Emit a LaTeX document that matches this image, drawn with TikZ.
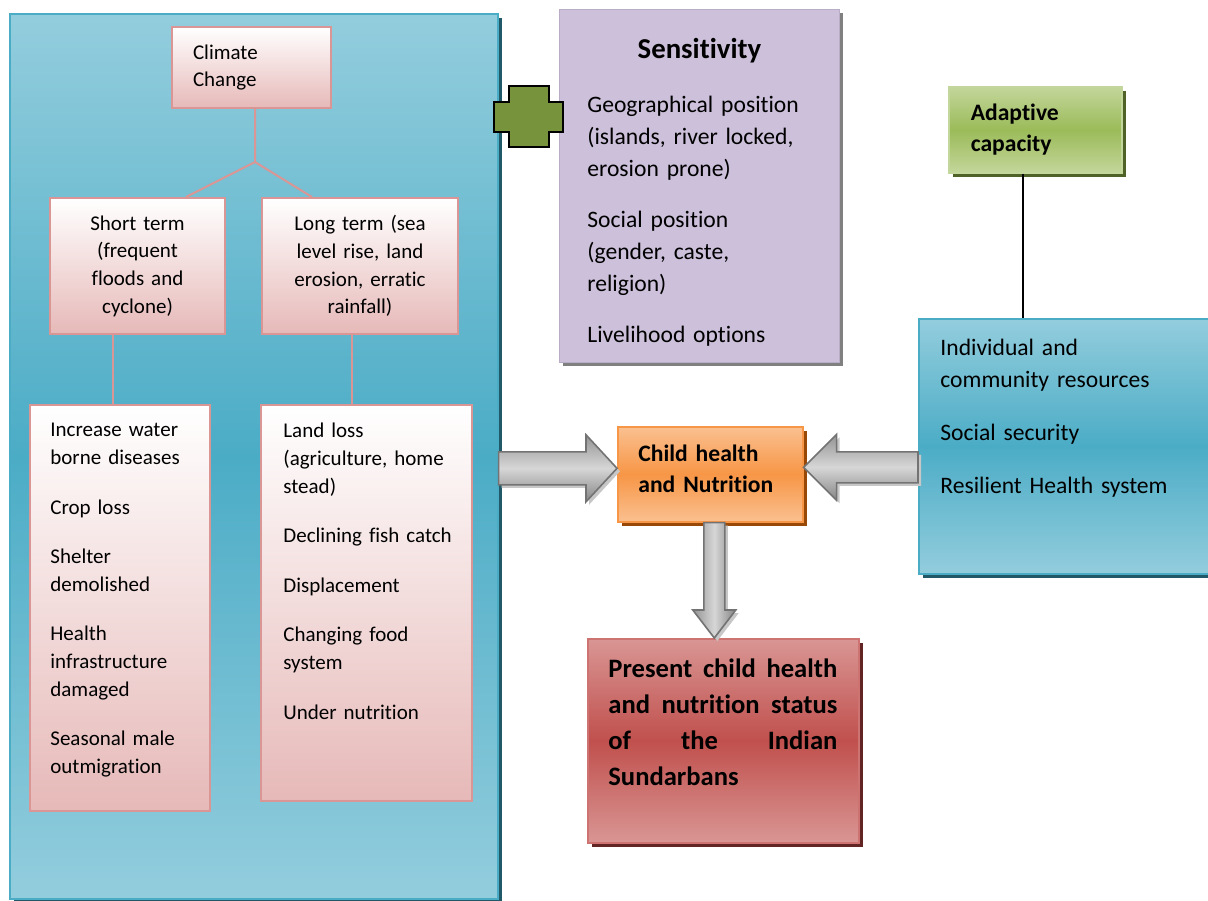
\documentclass[tikz,border=0pt]{standalone}
\usepackage{fontspec}
\setmainfont{Carlito}[Ligatures=NoCommon]
\usepackage{xcolor}
\usepackage{tikz}
\usetikzlibrary{calc,positioning}

\definecolor{tealmid}{HTML}{4BACC6}
\definecolor{teallight}{HTML}{93CDDD}
\definecolor{tealdark}{HTML}{215968}
\definecolor{rosebot}{HTML}{E6B9B8}
\definecolor{roseline}{HTML}{D99694}
\definecolor{lavender}{HTML}{CCC0DA}
\definecolor{olivefill}{HTML}{77933C}
\definecolor{greenmid}{HTML}{9BBB59}
\definecolor{greenlight}{HTML}{C3D69B}
\definecolor{greendark}{HTML}{4F6228}
\definecolor{orangemid}{HTML}{F79646}
\definecolor{orangelight}{HTML}{FAC090}
\definecolor{orangedark}{HTML}{984807}
\definecolor{redmid}{HTML}{C0504D}
\definecolor{redlight}{HTML}{D99694}
\definecolor{reddark}{HTML}{632523}

\begin{document}
\begin{tikzpicture}[x=0.5pt,y=-0.5pt,
  every node/.style={inner sep=0pt,anchor=north west},
  dropshade/.style={preaction={fill=#1,transform canvas={shift={(2pt,-2pt)}}}},
  tealbox/.style={draw=tealmid,line width=0.8pt,top color=teallight,bottom color=teallight,middle color=tealmid,dropshade=tealdark},
  rosebox/.style={draw=roseline,line width=1pt,top color=white,bottom color=rosebot},
  txt/.style={font=\fontsize{10.5}{13.8}\selectfont,align=left},
  bigtxt/.style={font=\fontsize{11.8}{16}\selectfont,align=left},
  boldtxt/.style={font=\fontsize{11.8}{15.5}\selectfont\bfseries,align=left},
  treeline/.style={draw=roseline,line width=1pt},
  fatarrow/.style={draw=black!55,line width=0.8pt,line join=miter,preaction={fill=black!22,transform canvas={shift={(1.5pt,-1.5pt)}}}},
  hshade/.style={top color=black!42,bottom color=black!48,middle color=black!16},
  vshade/.style={left color=black!42,right color=black!48,middle color=black!16}]
\path[use as bounding box] (0,0) rectangle (1208,900);
\clip (0,0) rectangle (1208,900);

% exposure panel
\node[tealbox,minimum width=244pt,minimum height=442.5pt] (panel) at (9,13) {};

\node[rosebox,txt,minimum width=79.5pt,minimum height=40.5pt,text width=58.5pt,inner xsep=10.5pt]
  (climate) at (171,26) {Climate\\ Change};
\node[rosebox,txt,align=center,minimum width=87.5pt,minimum height=68pt,text width=75pt]
  (short) at (49,197) {Short term\\ (frequent\\ floods and\\ cyclone)};
\node[rosebox,txt,align=center,minimum width=98pt,minimum height=68pt,text width=88pt]
  (long) at (261,197) {Long term (sea\\ level rise, land\\ erosion, erratic\\ rainfall)};

\node[rosebox,minimum width=90pt,minimum height=203pt] (shortlist) at (29,404) {};
\node[rosebox,minimum width=105.5pt,minimum height=198pt] (longlist) at (260,404) {};
\node[txt,text width=80pt,below right=9.5pt and 10.5pt of shortlist.north west] (shortitems)
  {Increase water\\ borne diseases\\[11pt] Crop loss\\[11pt] Shelter\\ demolished\\[11pt]
   Health\\ infrastructure\\ damaged\\[11pt] Seasonal male\\ outmigration};
\node[txt,text width=95pt,below right=9.5pt and 11.5pt of longlist.north west] (longitems)
  {Land loss\\ (agriculture, home\\ stead)\\[11pt] Declining fish catch\\[11pt]
   Displacement\\[11pt] Changing food\\ system\\[11pt] Under nutrition};

% tree lines
\coordinate (fork) at ([xshift=1.75pt,yshift=-26.5pt]climate.south);
\draw[treeline] ([xshift=1.75pt]climate.south) -- (fork) -- ([xshift=-20pt]short.north east);
\draw[treeline] (fork) -- ([xshift=25.5pt]long.north west);
\draw[treeline] ([xshift=-12.25pt]short.south) -- ([xshift=-12.25pt]short.south |- shortlist.north);
\draw[treeline] ([xshift=-4pt]long.south) -- ([xshift=-4pt]long.south |- longlist.north);

% sensitivity
\node[fill=lavender,draw=lavender!90!black,line width=0.4pt,dropshade=black!50,minimum width=140pt,minimum height=176.5pt]
  (sens) at (559,9) {};
\node[font=\fontsize{14.4}{17}\selectfont\bfseries,anchor=north,below=14.3pt of sens.north] (senstitle) {Sensitivity};
\node[bigtxt,text width=130pt,below right=43.2pt and 14pt of sens.north west] (sensitems)
  {Geographical position\\ (islands, river locked,\\ erosion prone)\\[9.5pt]
   Social position\\ (gender, caste,\\ religion)\\[9.5pt] Livelihood options};

% plus sign
\draw[fill=olivefill,line width=1pt] (509,86) -- (549,86) -- (549,102) -- (563,102) -- (563,132)
  -- (549,132) -- (549,147) -- (509,147) -- (509,132) -- (494,132) -- (494,102) -- (509,102) -- cycle;

% adaptive capacity
\node[boldtxt,draw=greenlight,line width=0.8pt,top color=greenlight,bottom color=greenlight,middle color=greenmid,
  dropshade=greendark,minimum width=86.5pt,minimum height=43pt,text width=64.5pt,inner xsep=11pt]
  (adapt) at (948,86) {Adaptive\\ capacity};
\node[tealbox,minimum width=151pt,minimum height=127.5pt] (rbox) at (918,318) {};
\node[bigtxt,text width=135pt,below right=10.3pt and 11pt of rbox.north west] (rboxitems)
  {Individual and\\ community resources\\[10.5pt] Social security\\[10.5pt] Resilient Health system};
\draw[line width=0.7pt] ([xshift=-6.25pt]adapt.south) -- ([xshift=-6.25pt]adapt.south |- rbox.north);

% outcome boxes
\node[draw=orangemid,line width=0.8pt,top color=orangelight,bottom color=orangelight,middle color=orangemid,
  dropshade=orangedark,minimum width=92.5pt,minimum height=47.5pt] (chn) at (617,426) {};
\node[boldtxt,text width=80pt,below right=9.5pt and 10.5pt of chn.north west] (chnitems)
  {Child health\\ and Nutrition};
\node[draw=redmid!80,line width=0.8pt,top color=redlight,bottom color=redlight,middle color=redmid,
  dropshade=reddark,minimum width=135.5pt,minimum height=102pt] (present) at (587,638) {};
\node[font=\fontsize{13.3}{18}\selectfont\bfseries,text width=114.5pt,align=justify,
  below right=10.3pt and 10.5pt of present.north west] (presentitems)
  {Present child health\linebreak and nutrition status\linebreak of the Indian\linebreak Sundarbans};

% block arrows
\coordinate (la) at ([yshift=3pt]chn.west);
\draw[fatarrow,hshade] (la) -- ++(-31,-33.5) -- ++(0,17) -- ([yshift=8.25pt]la -| panel.east)
  -- ([yshift=-8.25pt]la -| panel.east) -- ([xshift=-15.5pt,yshift=-8.25pt]la) -- ++(0,17) -- cycle;
\coordinate (ra) at ([yshift=3.5pt]chn.east);
\draw[fatarrow,hshade] (ra) -- ++(33,-33) -- ++(0,17.5) -- ([yshift=7.75pt]ra -| rbox.west)
  -- ([yshift=-7.75pt]ra -| rbox.west) -- ([xshift=16.5pt,yshift=-7.75pt]ra) -- ++(0,17.5) -- cycle;
\coordinate (da) at ([xshift=2pt]chn.south);
\coordinate (dt) at (da |- present.north);
\draw[fatarrow,vshade] (dt) -- ++(-21.5,-28) -- ++(11,0) -- ([xshift=-5.25pt]da)
  -- ([xshift=5.25pt]da) -- ([xshift=5.25pt,yshift=14pt]dt) -- ++(11,0) -- cycle;
\end{tikzpicture}
\end{document}
